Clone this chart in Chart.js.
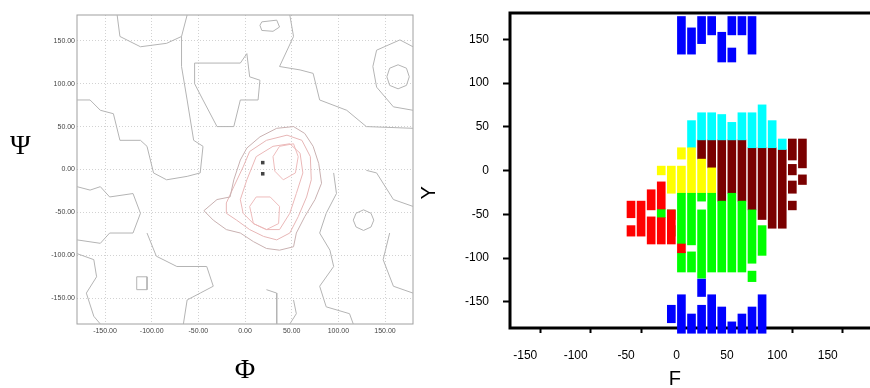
<!DOCTYPE html>
<html lang="en">
<head>
<meta charset="UTF-8">
<title>Phi / Psi maps</title>
<script src="https://cdn.jsdelivr.net/npm/chart.js"></script>
<style>
  html, body { margin: 0; padding: 0; overflow: hidden; background: #fff; }
  #wrap { position: relative; width: 870px; height: 388px; overflow: hidden; }
  #left { position: absolute; left: 0; top: 0; }
  #right { position: absolute; left: 416px; top: 0; }
  .greek { position: absolute; font-family: 'Liberation Serif', 'DejaVu Serif', serif; font-size: 28px; line-height: 28px; color: #000; }
</style>
</head>
<body>
<div id="wrap">
  <canvas id="left" width="430" height="388"></canvas>
  <canvas id="right" width="460" height="388"></canvas>
  <div class="greek" style="left:10px; top:131px">Ψ</div>
</div>
<script>
  // tick values shared by both panels
  const angleTicks = [-150, -100, -50, 0, 50, 100, 150]

  // left panel: contour lines, [phi, psi]
  const contourOuter = [[-44,-48],[-30,-35],[-16,-32],[-12,-12],[-5,11],[2,25],[16,38],[34,48],[52,50],[64,42],[73,27],[79,7],[82,-16],[75,-35],[64,-55],[55,-74],[52,-90],[37,-94],[23,-92],[9,-84],[-5,-74],[-20,-70],[-34,-59],[-44,-48]]
  const contourMid = [[-20,-39],[-12,-20],[-2,3],[5,21],[23,34],[45,40],[61,34],[70,15],[71,-12],[66,-32],[57,-55],[48,-74],[34,-82],[20,-78],[5,-70],[-9,-59],[-20,-51],[-20,-39]]
  const contourInner = [[-5,-35],[2,-12],[12,15],[30,27],[48,30],[59,19],[62,-4],[55,-28],[48,-51],[37,-70],[23,-70],[9,-63],[-2,-51],[-5,-35]]
  const lobeUpper = [[30,15],[37,27],[52,30],[57,15],[54,-4],[41,-12],[32,-2],[30,15]]
  const lobeLower = [[5,-43],[12,-32],[27,-32],[37,-43],[36,-63],[23,-70],[9,-63],[5,-43]]
  const grayContours = [
    [[-180,81],[-166,81],[-155,69],[-141,65],[-134,34],[-112,34],[-105,27],[-98,-4],[-84,-12],[-62,-8],[-48,-4],[-45,27],[-55,34],[-62,81],[-68,120],[-68,155],[-62,180]],
    [[-54,124],[-5,124],[2,135],[5,108],[16,104],[14,81],[-5,81],[-12,50],[-30,50],[-45,81],[-54,100],[-54,124]],
    [[48,180],[52,155],[37,120],[59,116],[73,112],[80,81],[109,69],[130,50],[180,48]],
    [[176,108],[173,118],[164,122],[155,118],[152,108],[155,98],[164,94],[173,98],[176,108]],
    [[180,143],[166,151],[141,139],[137,120],[141,96],[159,73],[180,69]],
    [[18,172],[34,174],[37,166],[30,161],[18,162],[16,168],[18,172]],
    [[-180,-20],[-166,-24],[-155,-20],[-145,-32],[-120,-28],[-112,-51],[-120,-74],[-145,-74],[-155,-86],[-180,-82]],
    [[-180,-98],[-162,-105],[-159,-125],[-170,-144],[-162,-171],[-155,-180]],
    [[-105,-74],[-95,-101],[-73,-113],[-41,-113],[-34,-136],[-48,-144],[-62,-152],[-66,-180]],
    [[-116,-125],[-105,-125],[-105,-140],[-116,-140],[-116,-125]],
    [[23,-140],[34,-144],[34,-180]],
    [[52,-152],[55,-168],[48,-180]],
    [[130,-1],[141,-4],[159,-35],[180,-43]],
    [[138,-59],[135,-51],[127,-47],[119,-51],[116,-59],[119,-67],[127,-71],[135,-67],[138,-59]],
    [[95,-4],[98,-28],[87,-51],[80,-74],[91,-94],[95,-113],[80,-136],[87,-160],[112,-168],[116,-180]],
    [[155,-74],[148,-105],[159,-136],[180,-144]],
    [[-137,180],[-134,155],[-112,143],[-84,147],[-68,155]]
  ]
  const residueMarks = [[19, 8], [19, -5]]

  // right panel: columns of points, [phi, psiFrom, psiTo]
  const redCols = [[-60,-75,-63],[-60,-54,-35],[-50,-75,-35],[-40,-84,-53],[-40,-45,-22],[-30,-84,-54],[-30,-44,-13],[-20,-84,-45],[-10,-94,-84]]
  const greenCols = [[-30,-54,-44],[-20,-56,-45],[-20,-75,-63],[-10,-84,-26],[-10,-116,-93],[0,-85,-26],[0,-116,-93],[10,-35,-26],[10,-123,-45],[20,-116,-26],[30,-116,-35],[40,-116,-26],[50,-116,-35],[60,-106,-45],[60,-127,-115],[70,-97,-63]]
  const yellowCols = [[-30,-5,5],[-20,-26,5],[-10,-26,5],[-10,13,26],[0,-26,26],[10,-26,13],[20,-26,3]]
  const cyanCols = [[0,26,57],[10,35,66],[20,35,66],[30,35,64],[40,35,55],[50,35,66],[60,26,66],[70,26,75],[80,26,57],[90,24,36]]
  const brownCols = [[10,13,35],[20,3,35],[30,-35,35],[40,-26,35],[50,-35,35],[60,-45,26],[70,-56,26],[80,-66,26],[90,-66,24],[100,12,36],[100,-5,7],[100,-26,-12],[100,-45,-35],[110,3,36],[110,-16,-5]]
  const blueTopCols = [[-10,133,176],[0,133,163],[10,145,176],[20,155,176],[30,124,158],[40,155,176],[40,124,140],[50,155,176],[60,133,176]]
  const blueBottomCols = [[-20,-174,-154],[-10,-186,-142],[0,-186,-164],[10,-144,-124],[10,-186,-154],[20,-186,-142],[30,-186,-156],[40,-186,-173],[50,-186,-164],[60,-186,-156],[70,-186,-142]]

  Chart.defaults.font.family = "'Liberation Sans Narrow', 'Liberation Sans', Arial, sans-serif"

  const framePlugin = {
    id: 'frame',
    beforeDatasetsDraw(chart, args, opts) {
      const { ctx, chartArea: a } = chart
      ctx.save()
      ctx.strokeStyle = opts.color
      ctx.lineWidth = opts.width
      ctx.strokeRect(a.left, a.top, a.right - a.left, a.bottom - a.top)
      ctx.restore()
    }
  }

  const setTicks = (scale) => { scale.ticks = angleTicks.map(v => ({ value: v })) }
  const toXY = pts => pts.map(([x, y]) => ({ x, y }))

  const line = (pts, color) => ({
    data: toXY(pts), showLine: true, borderColor: color, borderWidth: 1, pointRadius: 0, fill: false
  })

  new Chart(document.getElementById('left'), {
    type: 'scatter',
    data: {
      datasets: [
        ...grayContours.map(c => line(c, '#b4b4b4')),
        line(contourOuter, '#c9b1b1'),
        line(contourMid, '#e7b6b6'),
        line(contourInner, '#ebb8b8'),
        line(lobeUpper, '#eebcbc'),
        line(lobeLower, '#eebcbc'),
        { data: toXY(residueMarks), pointStyle: 'rect', pointRadius: 2.5, backgroundColor: '#444', borderWidth: 0 }
      ]
    },
    options: {
      responsive: false,
      animation: false,
      layout: { padding: { top: 15, right: 17 } },
      plugins: { legend: { display: false }, tooltip: { enabled: false }, frame: { color: '#a0a0a0', width: 1 } },
      scales: {
        x: {
          type: 'linear', min: -180, max: 180,
          afterBuildTicks: setTicks,
          afterFit: s => { s.height = 64 },
          grid: { color: '#d2d2d2', drawTicks: false },
          border: { display: false, dash: [1, 2] },
          ticks: { padding: 3, color: '#444', font: { size: 7 }, maxRotation: 0, autoSkip: false, callback: v => v.toFixed(2) },
          title: { display: true, text: 'Φ', color: '#000', font: { family: "'Liberation Serif', serif", size: 28 }, padding: { top: 0, bottom: 1 } }
        },
        y: {
          type: 'linear', min: -180, max: 180,
          afterBuildTicks: setTicks,
          afterFit: s => { s.width = 77 },
          grid: { color: '#d2d2d2', drawTicks: false },
          border: { display: false, dash: [1, 2] },
          ticks: { padding: 2, color: '#444', font: { size: 7 }, autoSkip: false, callback: v => v.toFixed(2) }
        }
      }
    },
    plugins: [framePlugin]
  })

  const cols = (rows, color) => ({
    data: rows.map(([x, a, b]) => ({ x, y: [a, b] })),
    backgroundColor: color
  })

  new Chart(document.getElementById('right'), {
    type: 'bar',
    data: {
      datasets: [
        cols(redCols, '#ff0000'),
        cols(greenCols, '#00ff00'),
        cols(yellowCols, '#ffff00'),
        cols(cyanCols, '#00ffff'),
        cols(brownCols, '#7a0000'),
        cols(blueTopCols, '#0000ff'),
        { ...cols(blueBottomCols, '#0000ff'), clip: false }
      ]
    },
    options: {
      responsive: false,
      animation: false,
      layout: { padding: { top: 13, right: 3 } },
      datasets: { bar: { grouped: false, barThickness: 8 } },
      plugins: { legend: { display: false }, tooltip: { enabled: false }, frame: { color: '#000', width: 3 } },
      scales: {
        x: {
          type: 'linear', min: -180, max: 180, offset: false,
          afterBuildTicks: setTicks,
          afterFit: s => { s.height = 60 },
          grid: { offset: false, drawOnChartArea: false, tickLength: 5, tickWidth: 2, tickColor: '#000' },
          border: { display: false },
          ticks: { padding: 15, labelOffset: -15, color: '#000', font: { size: 12 }, maxRotation: 0, autoSkip: false },
          // trailing spaces nudge the title left, like the tick labels
          title: { display: true, text: 'F      ', color: '#000', font: { size: 20 }, padding: { top: 0, bottom: -3 } }
        },
        y: {
          min: -180, max: 180,
          afterBuildTicks: setTicks,
          // keep the label padding from pushing the plot down
          afterFit: s => { s.width = 94; s.paddingTop = 0; s.paddingBottom = 0 },
          grid: { drawOnChartArea: false, tickLength: 7, tickWidth: 2, tickColor: '#000' },
          border: { display: false },
          ticks: { padding: 14, color: '#000', font: { size: 12 } },
          title: { display: true, text: 'Y        ', color: '#000', font: { size: 20 }, padding: { top: 1, bottom: 0 } }
        }
      }
    },
    plugins: [framePlugin]
  })
</script>
</body>
</html>
